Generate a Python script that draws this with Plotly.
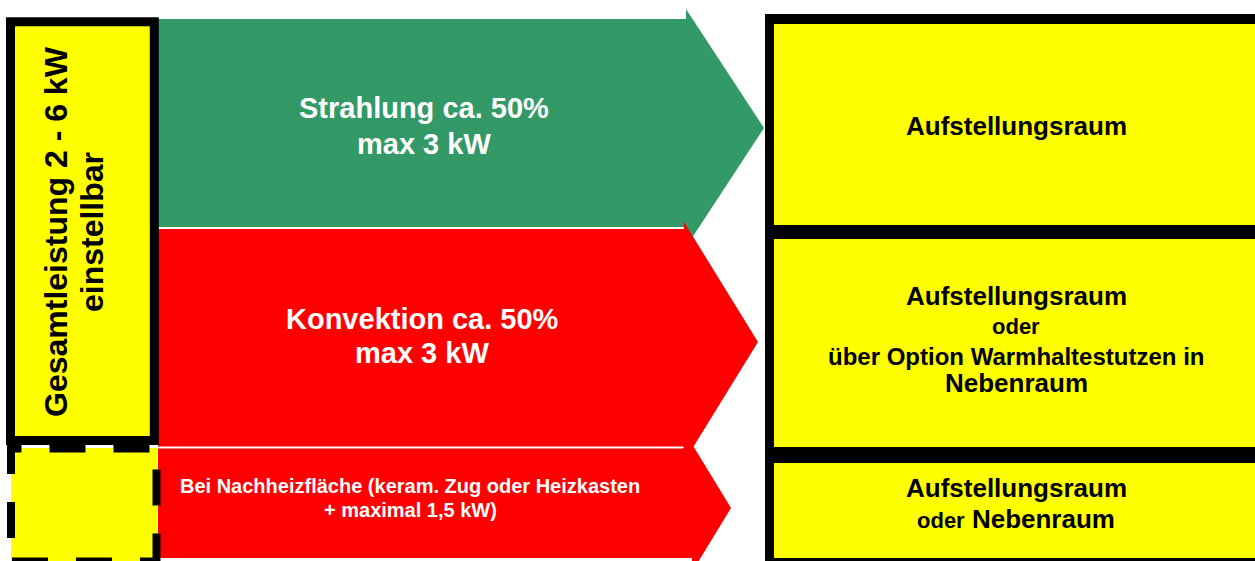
import plotly.graph_objects as go

# ---------------- content ----------------
source_lines = ["Gesamtleistung 2 - 6 kW", "einstellbar"]
flow_lines = [
    ["Strahlung ca. 50%", "max 3 kW"],
    ["Konvektion ca. 50%", "max 3 kW"],
    ["Bei Nachheizfläche (keram. Zug oder Heizkasten", "+ maximal 1,5 kW)"],
]
flow_colors = ["#339966", "#FF0000", "#FF0000"]
target_lines = [
    ["Aufstellungsraum"],
    ["Aufstellungsraum", "oder", "über Option Warmhaltestutzen in", "Nebenraum"],
    ["Aufstellungsraum", "<span style='font-size:22px'>oder</span> Nebenraum"],
]

# ---------------- layout geometry (pixels) ----------------
W, H = 1255, 561
FONT = "Liberation Sans, Arial, sans-serif"
YELLOW = "#FFFF00"

# arrows: body left, body right, body top, body bottom, head top, tip x, tip y, head bottom
arrow_geo = [
    (158, 686, 19, 227, 9, 764, 128, 247),
    (158, 684, 229, 447, 222, 758, 342, 462),
    (158, 692, 448, 558, 444, 731, 508, 572),
]
flow_text_geo = [
    (424, [108, 144], 29),
    (422, [319, 353], 29),
    (410, [486, 510], 20),
]
target_rows = [(24, 225), (239, 447), (463, 558)]
target_text_geo = [
    [(126, 26)],
    [(296, 26), (326, 22), (356, 24), (383, 26)],
    [(488, 26), (519, 26)],
]

fig = go.Figure()

# arrows as filled polygons drawn through the axes
for (xl, xb, top, bot, ht, tx, ty, hb), col in zip(arrow_geo, flow_colors):
    xs = [xl, xb, xb, tx, xb, xb, xl, xl]
    ys = [top, top, ht, ty, hb, bot, bot, top]
    fig.add_trace(go.Scatter(x=xs, y=ys, mode="lines", fill="toself",
                             fillcolor=col, line=dict(width=0, color=col),
                             hoverinfo="skip", showlegend=False))

shapes = []
# white separators between arrow bodies
shapes.append(dict(type="line", x0=158, x1=684, y0=228, y1=228,
                   line=dict(color="white", width=2), layer="above"))
shapes.append(dict(type="line", x0=158, x1=683, y0=447.5, y1=447.5,
                   line=dict(color="white", width=2), layer="above"))

# left source box (solid)
shapes.append(dict(type="rect", x0=10.5, x1=154.3, y0=21.8, y1=440.5,
                   fillcolor=YELLOW, line=dict(color="black", width=9), layer="above"))
# dashed box below
shapes.append(dict(type="rect", x0=11, x1=157, y0=448, y1=565,
                   fillcolor=YELLOW, line=dict(width=0), layer="above"))
shapes.append(dict(type="path", path="M 11,602 V 448.5 H 156.5 V 600",
                   line=dict(color="black", width=8, dash="36px,28px"), layer="above"))
shapes.append(dict(type="path", path="M 12,561.5 H 160",
                   line=dict(color="black", width=8, dash="36px,28px"), layer="above"))

# right target column
shapes.append(dict(type="rect", x0=765, x1=1265, y0=14, y1=565,
                   fillcolor="black", line=dict(width=0), layer="below"))
for (y0, y1) in target_rows:
    shapes.append(dict(type="rect", x0=774, x1=1265, y0=y0, y1=y1,
                       fillcolor=YELLOW, line=dict(width=0), layer="below"))

annotations = []
# rotated source labels
annotations.append(dict(x=56, y=232, text=source_lines[0], textangle=-90,
                        font=dict(family=FONT, size=32, color="black", weight="bold")))
annotations.append(dict(x=92, y=232, text=source_lines[1], textangle=-90,
                        font=dict(family=FONT, size=32, color="black", weight="bold")))
# flow labels
for lines, (cx, ys, fs) in zip(flow_lines, flow_text_geo):
    for t, y in zip(lines, ys):
        annotations.append(dict(x=cx, y=y, text=t,
                                font=dict(family=FONT, size=fs, color="white", weight="bold")))
# target labels
for lines, geo in zip(target_lines, target_text_geo):
    for t, (y, fs) in zip(lines, geo):
        annotations.append(dict(x=1016, y=y, text=t,
                                font=dict(family=FONT, size=fs, color="black", weight="bold")))

for a in annotations:
    a.update(xref="x", yref="y", showarrow=False, xanchor="center", yanchor="middle",
             borderpad=0)

fig.update_layout(
    width=W, height=H,
    margin=dict(l=0, r=0, t=0, b=0),
    paper_bgcolor="white", plot_bgcolor="white",
    xaxis=dict(range=[0, W], visible=False, fixedrange=True),
    yaxis=dict(range=[H, 0], visible=False, fixedrange=True),
    shapes=shapes, annotations=annotations, showlegend=False,
)

fig.write_html("out.html", config={"displayModeBar": False},
               post_script="document.body.style.margin='0px';document.body.style.overflow='hidden';")
